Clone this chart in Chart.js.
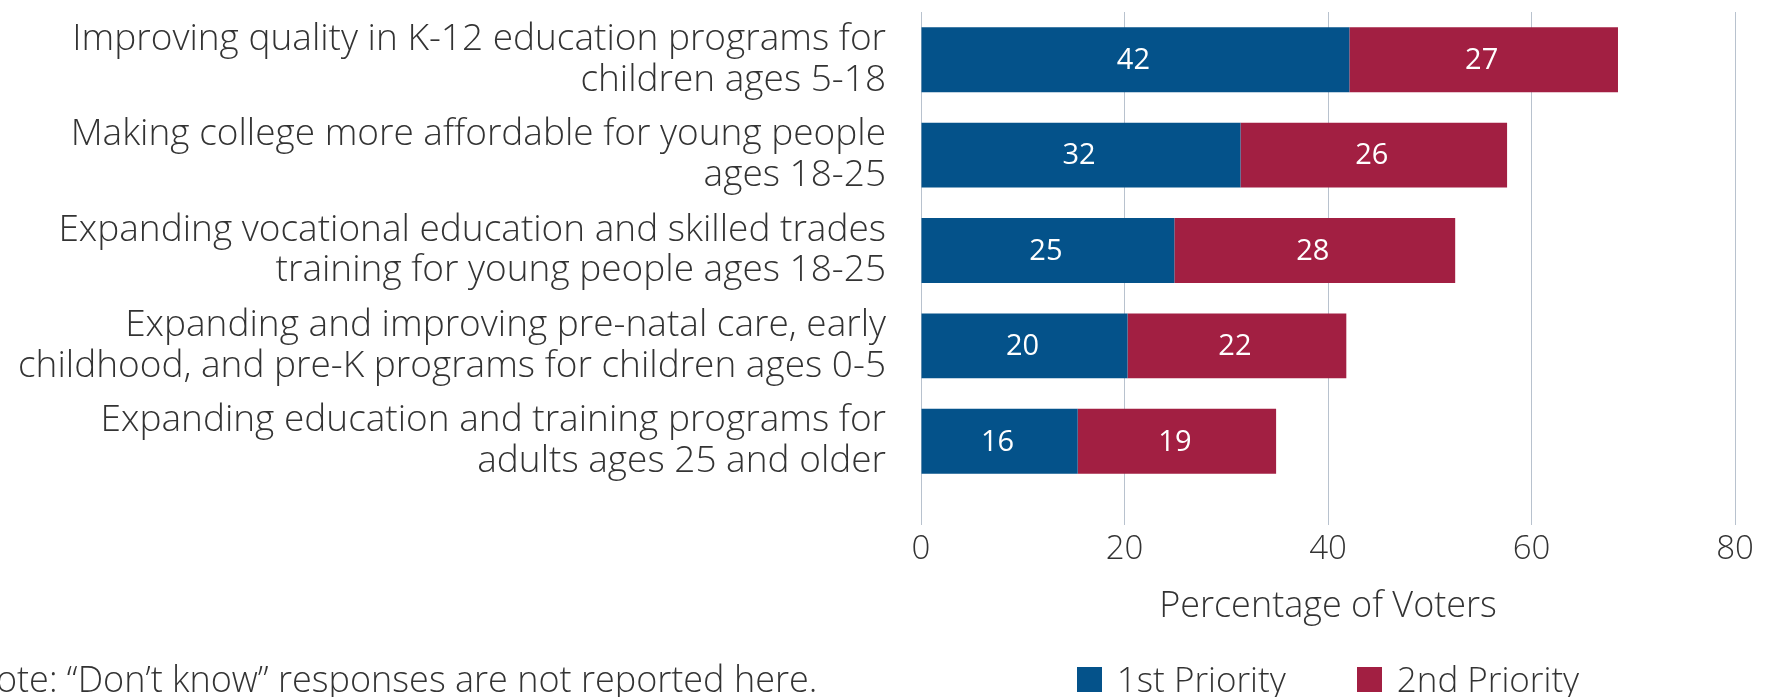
<!DOCTYPE html>
<html lang="en">
<head>
<meta charset="utf-8" />
<title>Education priorities — 1st and 2nd priority</title>
<script src="https://cdn.jsdelivr.net/npm/chart.js@4.4.1/dist/chart.umd.min.js"></script>
<style>
  html, body { margin: 0; padding: 0; background: #fff; overflow: hidden; }
  body { width: 1775px; height: 697px; position: relative; font-family: 'Open Sans', sans-serif; font-weight: 300; color: #333; }
  #wrap { position: absolute; left: 0; top: 0; width: 1775px; height: 697px; }
  .note { position: absolute; left: -30px; top: 656px; font-size: 36px; line-height: 46px; white-space: nowrap; }
  .legend { position: absolute; left: 921px; width: 814px; top: 656px; display: flex; justify-content: center; gap: 71px; font-size: 35px; line-height: 46px; }
  .legend span.item { display: flex; align-items: center; }
  .legend i { display: inline-block; width: 25px; height: 25px; margin-right: 15px; }
</style>
</head>
<body>
<div id="wrap"><canvas id="c"></canvas></div>
<div class="note">Note: “Don’t know” responses are not reported here.</div>
<div class="legend" id="legend"></div>
<script>
// categories (two-line labels as printed)
const categories = [
  ['Improving quality in K-12 education programs for', 'children ages 5-18'],
  ['Making college more affordable for young people', 'ages 18-25'],
  ['Expanding vocational education and skilled trades', 'training for young people ages 18-25'],
  ['Expanding and improving pre-natal care, early', 'childhood, and pre-K programs for children ages 0-5'],
  ['Expanding education and training programs for', 'adults ages 25 and older'],
];
const firstPriority = [42.1, 31.4, 24.9, 20.3, 15.4];
const secondPriority = [26.4, 26.2, 27.6, 21.5, 19.5];
const firstShown = ['42', '32', '25', '20', '16'];
const secondShown = ['27', '26', '28', '22', '19'];
const seriesNames = ['1st Priority', '2nd Priority'];
const xTicks = [0, 20, 40, 60, 80];

const BLUE = '#04528a';
const RED = '#a21f42';
const GRID = '#b8c2ce';
const TEXT = '#333333';
const FONT = "'Open Sans', sans-serif";

Chart.defaults.font.family = FONT;
Chart.defaults.font.weight = 300;
Chart.defaults.color = TEXT;

const barLabels = {
  id: 'barLabels',
  afterDatasetsDraw(chart) {
    const ctx = chart.ctx;
    const shown = [firstShown, secondShown];
    ctx.save();
    ctx.font = `400 29px ${FONT}`;
    ctx.fillStyle = '#ffffff';
    ctx.textAlign = 'center';
    ctx.textBaseline = 'middle';
    chart.data.datasets.forEach((ds, i) => {
      chart.getDatasetMeta(i).data.forEach((bar, j) => {
        const p = bar.getCenterPoint();
        ctx.fillText(shown[i][j], p.x - 2, p.y + 1);
      });
    });
    ctx.restore();
  },
};

new Chart(document.getElementById('c'), {
  type: 'bar',
  data: {
    labels: categories,
    datasets: [
      { label: seriesNames[0], data: firstPriority, backgroundColor: BLUE, barPercentage: 0.68, categoryPercentage: 1 },
      { label: seriesNames[1], data: secondPriority, backgroundColor: RED, barPercentage: 0.68, categoryPercentage: 1 },
    ],
  },
  options: {
    indexAxis: 'y',
    responsive: true,
    maintainAspectRatio: false,
    animation: false,
    layout: { padding: { top: 12, right: 40, bottom: 57, left: 0 } },
    plugins: { legend: { display: false }, tooltip: { enabled: false } },
    scales: {
      x: {
        stacked: true,
        min: 0,
        max: 80,
        afterBuildTicks(scale) { scale.ticks = xTicks.map((v) => ({ value: v })); },
        afterFit(scale) { scale.height = 151; },
        grid: { color: GRID, lineWidth: 1, drawTicks: true, tickLength: 36, tickColor: GRID },
        border: { display: false },
        ticks: { padding: 5, font: { size: 33 }, color: TEXT },
        title: { display: true, text: 'Percentage of Voters', font: { size: 36, lineHeight: 1.2 }, color: TEXT, padding: { top: 0, bottom: 12 } },
      },
      y: {
        stacked: true,
        afterFit(scale) {
          scale.width = 921;
          scale.paddingTop = 0;
          scale.paddingBottom = 0;
        },
        grid: { display: false, drawTicks: false },
        border: { display: false },
        ticks: { padding: 35, font: { size: 37, lineHeight: 1.1 }, color: TEXT },
      },
    },
  },
  plugins: [barLabels],
});

document.getElementById('legend').innerHTML = seriesNames
  .map((n, i) => `<span class="item"><i style="background:${[BLUE, RED][i]}"></i>${n}</span>`)
  .join('');
</script>
</body>
</html>
